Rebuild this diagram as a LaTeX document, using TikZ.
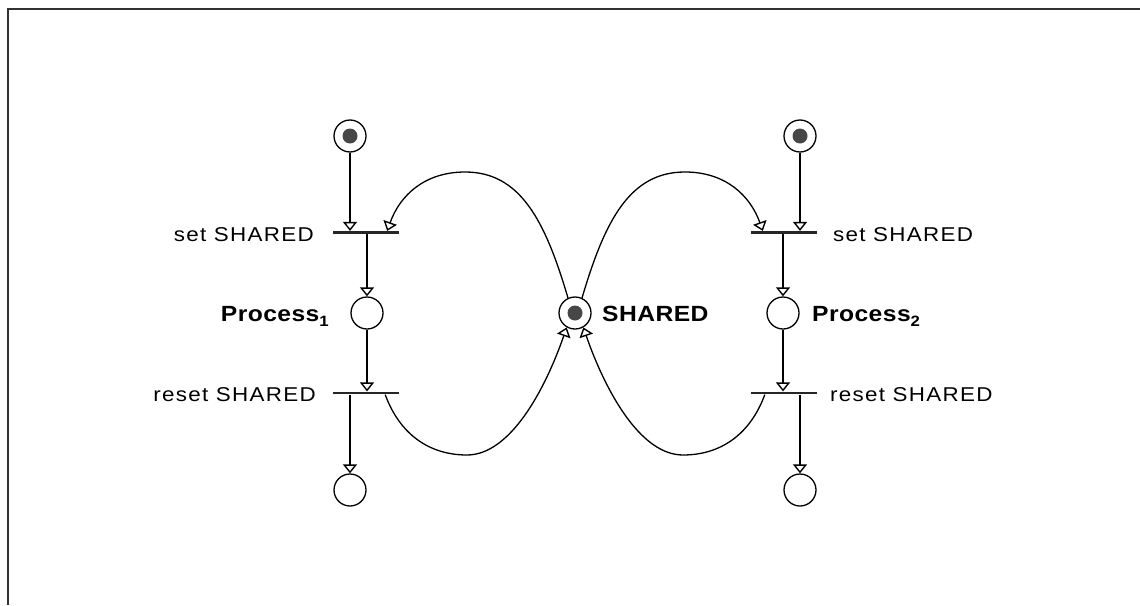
\documentclass[tikz,border=0pt]{standalone}
\usepackage{fontspec}
\setmainfont{Liberation Sans}
\newfontfamily\lblfont[FakeStretch=1.12,LetterSpace=6.5]{Liberation Sans}
\newfontfamily\plblfont[FakeStretch=1.12,LetterSpace=2]{Liberation Sans}
\newcommand{\procsub}[1]{\raisebox{-5pt}{\fontsize{15}{15}\selectfont #1}}
\usetikzlibrary{arrows.meta}

\begin{document}
\begin{tikzpicture}[x=1pt,y=-1pt,
  place/.style={circle,draw,line width=1.3pt,minimum size=32pt,inner sep=0pt},
  token/.style={circle,fill=black!72,minimum size=15pt,inner sep=0pt},
  bar/.style={rectangle,fill=black!85,minimum width=66pt,minimum height=2.8pt,inner sep=0pt},
  arr/.style={line width=1.3pt,-{Triangle[open,length=9pt,width=14pt,line width=1.4pt]}},
  arc/.style={line width=1.3pt},
  lbl/.style={font=\lblfont\fontsize{20}{24}\selectfont,inner sep=0pt},
  plbl/.style={font=\plblfont\bfseries\fontsize{22}{26}\selectfont,inner sep=0pt}]

  \useasboundingbox (0,0) rectangle (1140,605);

  % frame
  \draw[line width=2pt,black!80] (8,605) -- (8,9) -- (1140,9);

  % ---- left process ----
  \node[place] (a1) at (350,136) {};
  \node[token] (a1t) at (a1) {};
  \node[bar] (s1) at (366,232.5) {};
  \node[place] (q1) at (367,313) {};
  \node[bar] (r1) at (366,393) {};
  \node[place] (b1) at (350,490) {};

  \node[lbl,anchor=base east] (ls1) at (314,241.5) {set SHARED};
  \node[lbl,anchor=base east] (lr1) at (316,401.5) {reset SHARED};
  \node[plbl,anchor=base east] (lq1) at (329,321.5) {Process\procsub{1}};

  \draw[arr] (a1) -- (a1 |- s1.north);
  \draw[arr] (s1.south -| q1) -- (q1);
  \draw[arr] (q1) -- (q1 |- r1.north);
  \draw[arr] (r1.south -| b1) -- (b1);

  % ---- shared place ----
  \node[place] (sh) at (575,313) {};
  \node[token] (sht) at (sh) {};
  \node[plbl,anchor=base west] (lsh) at (602,321.5) {SHARED};

  % ---- right process ----
  \node[place] (a2) at (800,136) {};
  \node[token] (a2t) at (a2) {};
  \node[bar] (s2) at (784,232.5) {};
  \node[place] (q2) at (783,313) {};
  \node[bar] (r2) at (784,393) {};
  \node[place] (b2) at (800,490) {};

  \node[lbl,anchor=base west] (ls2) at (833,241.5) {set SHARED};
  \node[lbl,anchor=base west] (lr2) at (830,401.5) {reset SHARED};
  \node[plbl,anchor=base west] (lq2) at (812,321.5) {Process\procsub{2}};

  \draw[arr] (a2) -- (a2 |- s2.north);
  \draw[arr] (s2.south -| q2) -- (q2);
  \draw[arr] (q2) -- (q2 |- r2.north);
  \draw[arr] (r2.south -| b2) -- (b2);

  % ---- loops through the shared place ----
  \coordinate (s1in) at ([xshift=-12pt]s1.north east);
  \coordinate (r1out) at ([xshift=-14pt]r1.south east);
  \coordinate (s2in) at ([xshift=12pt]s2.north west);
  \coordinate (r2out) at ([xshift=14pt]r2.south west);

  \draw[arc,arr] (sh.115) .. controls (545,220) and (520,172) .. (465,172)
                          .. controls (425,172) and (400,195) .. (s1in);
  \draw[arc,arr] (r1out) .. controls (400,435) and (430,455) .. (467,455)
                         .. controls (510,455) and (545,390) .. (sh.240);
  \draw[arc,arr] (sh.65) .. controls (605,220) and (630,172) .. (685,172)
                         .. controls (725,172) and (750,195) .. (s2in);
  \draw[arc,arr] (r2out) .. controls (750,435) and (720,455) .. (683,455)
                         .. controls (640,455) and (605,390) .. (sh.300);
\end{tikzpicture}
\end{document}
